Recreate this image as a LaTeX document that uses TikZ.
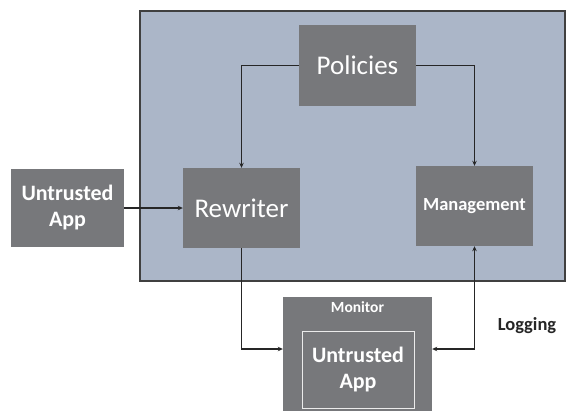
\documentclass[tikz,border=0pt]{standalone}
\usepackage{fontspec}
\setmainfont{Carlito}
\usetikzlibrary{arrows.meta}
\definecolor{panelblue}{HTML}{ABB6C8}
\definecolor{boxgray}{HTML}{77787B}
\definecolor{edgegray}{HTML}{404040}
\tikzset{
  graybox/.style={fill=boxgray, draw=none, text=white, align=center, inner sep=0pt},
  conn/.style={draw=black!85, line width=1.3pt, -{Stealth[length=5pt,width=4.5pt]}},
  bconn/.style={draw=black!85, line width=1.3pt, {Stealth[length=5pt,width=4.5pt]}-{Stealth[length=5pt,width=4.5pt]}},
}
\begin{document}
\begin{tikzpicture}[x=1pt,y=-1pt]
\useasboundingbox (0,0) rectangle (567,416);
\fill[white] (0,0) rectangle (567,416);
% panel
\draw[fill=panelblue, draw=edgegray, line width=1.3pt] (140,11) rectangle (565,281);
% nodes
\node[graybox, minimum width=117pt, minimum height=81pt, font=\fontsize{27}{30}\selectfont] (pol) at (357.5,65.5) {Policies};
\node[graybox, minimum width=117pt, minimum height=80pt, font=\fontsize{27}{30}\selectfont] (rew) at (241.5,208) {Rewriter};
\node[graybox, minimum width=113pt, minimum height=78pt, font=\fontsize{22}{26}\selectfont\bfseries] (app) at (67.5,208) {Untrusted\\App};
\node[graybox, minimum width=117pt, minimum height=80pt, font=\fontsize{18.5}{22}\selectfont\bfseries] (mgmt) at (474.5,206) {\raisebox{4pt}{Management}};
\node[graybox, minimum width=149pt, minimum height=114pt] (mon) at (357.5,354) {};
\node[text=white, font=\fontsize{15.5}{18}\selectfont\bfseries] (monlbl) at (357.5,307) {Monitor};
\node[draw=white!85!boxgray, line width=0.8pt, minimum width=112pt, minimum height=77pt, text=white, align=center, inner sep=0pt, font=\fontsize{22}{26}\selectfont\bfseries] (inner) at (358,369.5) {Untrusted\\App};
\node[text=black!85, font=\fontsize{18.5}{22}\selectfont\bfseries] (log) at (527,326) {Logging};
% connectors
\draw[conn] (pol.west) -| (rew.north);
\draw[conn] (pol.east) -| (mgmt.north);
\draw[conn] (app.east) -- (rew.west);
\draw[conn] (rew.south) |- ([yshift=5pt]mon.west);
\draw[bconn] (mgmt.south) |- ([yshift=5pt]mon.east);
\end{tikzpicture}
\end{document}
